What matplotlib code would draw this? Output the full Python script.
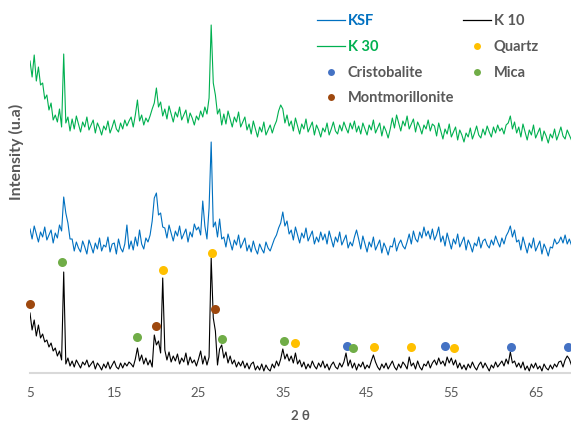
import numpy as np
import matplotlib.pyplot as plt
from matplotlib.lines import Line2D

plt.rcParams['font.family'] = ['Lato', 'DejaVu Sans']

# 2-theta scan grid (0.25 deg step, 5 .. 69.25)
two_theta = np.arange(5.0, 69.26, 0.25)

# intensities (arbitrary units), 4 degrees per row
k10 = [
    60, 43, 53, 37,  48, 35, 39, 31,  33, 26, 30, 22,  25, 17, 22, 13,
    101, 9, 15, 7,  12, 6, 13, 9,  5, 11, 8, 13,  6, 9, 12, 4,
    10, 7, 3, 9,  5, 11, 4, 8,  12, 6, 4, 10,  5, 10, 7, 11,
    9, 6, 14, 25,  12, 18, 9, 15,  8, 13, 6, 38,  28, 32, 20, 95,
    23, 13, 21, 11,  17, 12, 19, 9,  15, 11, 20, 8,  16, 10, 13, 7,
    14, 22, 9, 17,  8, 16, 115, 55,  42, 8, 24, 28,  15, 21, 10, 17,
    9, 13, 6, 11,  7, 12, 5, 10,  4, 9, 11, 3,  7, 3, 9, 2,
    8, 4, 2, 9,  5, 12, 7, 14,  24, 14, 19, 12,  17, 10, 20, 9,
    13, 6, 11, 4,  9, 5, 12, 7,  4, 10, 6, 12,  5, 9, 3, 8,
    11, 6, 4, 10,  6, 11, 20, 7,  13, 5, 10, 3,  9, 6, 11, 4,
    8, 5, 12, 18,  11, 6, 3, 9,  5, 10, 4, 8,  12, 6, 3, 9,
    5, 11, 8, 4,  16, 7, 10, 4,  12, 6, 3, 9,  7, 12, 5, 10,
    13, 8, 15, 9,  12, 7, 16, 10,  15, 8, 13, 5,  10, 4, 8, 3,
    9, 5, 11, 6,  3, 8, 11, 5,  10, 6, 2, 8,  5, 11, 6, 9,
    12, 7, 14, 9,  21, 10, 12, 6,  10, 5, 11, 3,  7, 2, 9, 5,
    10, 4, 7, 2,  9, 5, 3, 8,  4, 9, 6, 11,  12, 6, 13, 17,
    14, 8,
]

ksf = [
    144, 134, 147, 139,  131, 141, 136, 146,  133, 138, 143, 130,  140, 135, 148, 142,
    176, 160, 150, 134,  134, 122, 131, 125,  121, 132, 126, 119,  133, 127, 120, 130,
    124, 135, 122, 128,  126, 136, 121, 129,  130, 119, 134, 125,  121, 129, 148, 124,
    132, 123, 136, 127,  143, 129, 124, 135,  131, 138, 152, 175,  180, 158, 160, 146,
    145, 135, 148, 140,  132, 142, 137, 147,  134, 139, 144, 131,  141, 136, 149, 143,
    146, 138, 172, 147,  134, 165, 231, 146,  151, 136, 154, 134,  136, 126, 139, 131,
    123, 133, 128, 138,  125, 130, 135, 122,  128, 121, 132, 124,  119, 129, 124, 120,
    131, 125, 122, 128,  134, 138, 145, 150,  161, 147, 152, 139,  143, 133, 146, 138,
    130, 140, 135, 145,  132, 137, 142, 129,  136, 131, 141, 133,  139, 129, 142, 134,
    126, 136, 131, 141,  128, 133, 138, 125,  131, 127, 136, 143,  134, 124, 137, 129,
    121, 131, 126, 136,  123, 128, 133, 120,  130, 125, 118, 127,  126, 135, 122, 129,
    133, 127, 124, 131,  139, 129, 142, 134,  131, 141, 135, 146,  137, 142, 134, 144,
    133, 138, 146, 131,  137, 127, 140, 132,  124, 134, 129, 139,  126, 131, 136, 123,
    133, 128, 121, 130,  127, 136, 125, 132,  134, 128, 125, 133,  128, 137, 131, 126,
    135, 129, 137, 141,  147, 136, 143, 131,  133, 123, 136, 128,  120, 130, 125, 135,
    122, 127, 132, 119,  129, 124, 117, 126,  125, 134, 129, 131,  136, 130, 138, 129,
    134, 128,
]

k30 = [
    312, 296, 318, 292,  306, 288, 290, 274,  278, 263, 270, 253,  258, 251, 264, 246,
    319, 250, 256, 242,  254, 244, 257, 249,  241, 251, 246, 256,  243, 248, 253, 240,
    250, 245, 238, 247,  243, 252, 240, 246,  253, 244, 241, 250,  244, 253, 247, 252,
    256, 246, 258, 273,  252, 258, 248, 255,  251, 257, 264, 270,  285, 266, 271, 257,
    264, 254, 267, 259,  251, 261, 256, 266,  253, 258, 263, 250,  260, 255, 248, 257,
    253, 262, 256, 266,  259, 275, 348, 290,  278, 259, 264, 248,  259, 249, 262, 254,
    246, 256, 251, 261,  246, 251, 256, 243,  249, 239, 252, 244,  236, 246, 241, 251,
    238, 243, 248, 240,  247, 252, 262, 268,  264, 250, 258, 247,  252, 242, 255, 247,
    239, 249, 244, 254,  241, 246, 251, 238,  248, 243, 236, 245,  241, 250, 238, 244,
    251, 242, 239, 248,  242, 251, 245, 240,  250, 244, 252, 241,  247, 239, 250, 244,
    238, 248, 243, 253,  240, 245, 250, 237,  247, 242, 235, 244,  255, 245, 258, 250,
    242, 252, 247, 257,  244, 249, 254, 241,  251, 246, 239, 248,  244, 253, 242, 249,
    247, 237, 250, 242,  234, 244, 239, 249,  236, 241, 246, 233,  243, 238, 231, 240,
    236, 245, 234, 240,  247, 238, 235, 244,  238, 247, 241, 236,  246, 240, 248, 242,
    245, 239, 248, 250,  257, 244, 251, 240,  246, 236, 249, 241,  233, 243, 238, 248,
    235, 240, 245, 232,  242, 237, 230, 239,  235, 244, 233, 239,  246, 237, 234, 243,
    238, 233,
]

# phase markers on the K 10 pattern (2-theta, height)
montmorillonite_x = [5.0, 19.95, 27.0]
montmorillonite_y = [69, 47, 64]
mica_x = [8.83, 17.73, 27.8, 35.1, 43.35]
mica_y = [111, 36, 34, 32, 25]
quartz_x = [20.8, 26.6, 36.5, 45.85, 50.2, 55.3]
quartz_y = [103, 120, 30, 26, 26, 25]
cristobalite_x = [42.6, 54.27, 62.1, 68.8]
cristobalite_y = [27, 27, 26, 26]

c_ksf = '#0070C0'
c_k30 = '#00B050'
c_cris = '#4472C4'
c_mont = '#9E480E'
c_quartz = '#FFC000'
c_mica = '#70AD47'
c_text = '#595959'

fig = plt.figure(figsize=(5.71, 4.24), dpi=100)
ax = fig.add_axes([30 / 571, 1 - 373 / 424, 541 / 571, 363 / 424])

ax.plot(two_theta, k30, color=c_k30, lw=0.8)
ax.plot(two_theta, ksf, color=c_ksf, lw=0.8)
ax.plot(two_theta, k10, color='black', lw=0.8)

ms = 6.5
ax.plot(cristobalite_x, cristobalite_y, 'o', color=c_cris, ms=ms, mec='none')
ax.plot(montmorillonite_x, montmorillonite_y, 'o', color=c_mont, ms=ms, mec='none', clip_on=False)
ax.plot(quartz_x, quartz_y, 'o', color=c_quartz, ms=ms, mec='none')
ax.plot(mica_x, mica_y, 'o', color=c_mica, ms=ms, mec='none')

ax.set_xlim(5, 69.2)
ax.set_ylim(0, 363)
ax.set_xticks([5, 15, 25, 35, 45, 55, 65])
ax.tick_params(axis='x', length=0, labelsize=9.5, labelcolor=c_text, pad=10)
ax.set_yticks([])
for s in ['top', 'right', 'left']:
    ax.spines[s].set_visible(False)
ax.spines['bottom'].set_color('#D9D9D9')
ax.spines['bottom'].set_linewidth(1.5)

ax.set_xlabel('2 θ', fontsize=9.5, fontweight='bold', color=c_text, labelpad=8)
ax.set_ylabel('Intensity (u.a)', fontsize=11.5, fontweight='bold', color=c_text)
ax.yaxis.set_label_coords(-0.011, 0.61)

handles = [
    Line2D([], [], color=c_ksf, lw=0.9),
    Line2D([], [], color=c_k30, lw=0.9),
    Line2D([], [], ls='none', marker='o', color=c_cris, ms=5, mec='none'),
    Line2D([], [], ls='none', marker='o', color=c_mont, ms=5, mec='none'),
    Line2D([], [], color='black', lw=0.9),
    Line2D([], [], ls='none', marker='o', color=c_quartz, ms=5, mec='none'),
    Line2D([], [], ls='none', marker='o', color=c_mica, ms=5, mec='none'),
]
labels = ['KSF', 'K 30', 'Cristobalite', 'Montmorillonite', 'K 10', 'Quartz', 'Mica']
leg = ax.legend(handles, labels, ncol=2, loc='upper left',
                bbox_to_anchor=(310 / 571, 1 - 7 / 424), bbox_transform=fig.transFigure,
                frameon=False, fontsize=10.5, handlelength=1.9, handletextpad=0.2,
                labelspacing=0.8, columnspacing=0.6, borderpad=0)
text_colors = [c_ksf, c_k30, c_text, c_text, c_text, c_text, c_text]
for t, c in zip(leg.get_texts(), text_colors):
    t.set_color(c)
    t.set_fontweight('bold')

fig.savefig('out.png', dpi=100)
